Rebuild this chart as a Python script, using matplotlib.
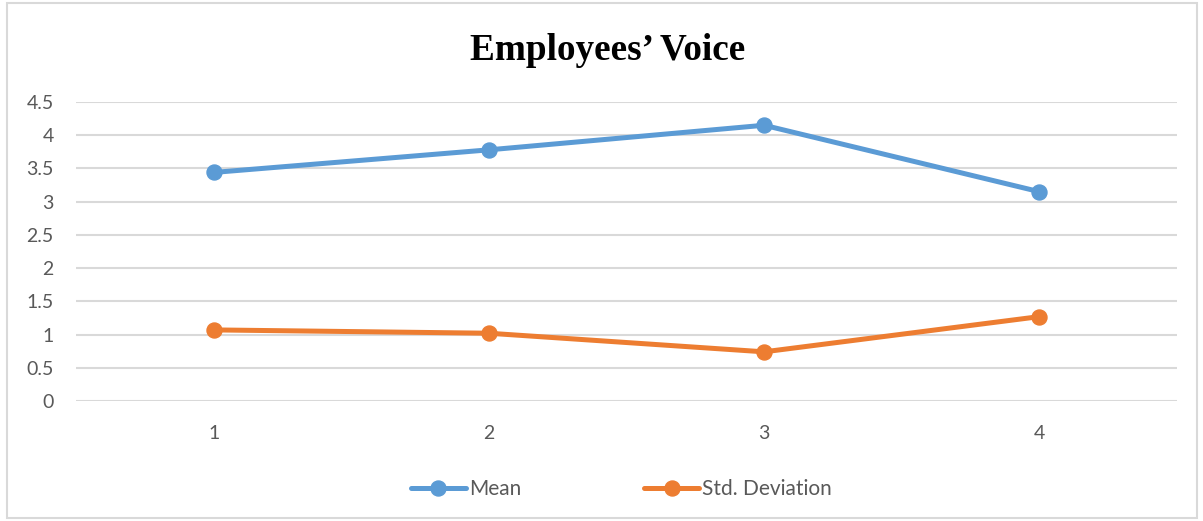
import matplotlib.pyplot as plt
from matplotlib.patches import Rectangle
from matplotlib.lines import Line2D

# survey items and their summary stats
items = [1, 2, 3, 4]
mean_vals = [3.44, 3.78, 4.15, 3.15]
std_vals = [1.07, 1.02, 0.74, 1.27]
y_ticks = [0, 0.5, 1, 1.5, 2, 2.5, 3, 3.5, 4, 4.5]
y_labels = ["0", "0.5", "1", "1.5", "2", "2.5", "3", "3.5", "4", "4.5"]

BLUE = "#5B9BD5"
ORANGE = "#ED7D31"
GRID = "#D9D9D9"
TEXT = "#595959"
FONT = "Lato"
LW = 3.6
MS = 10.8

fig = plt.figure(figsize=(12.03, 5.21), dpi=100)
fig.patch.set_facecolor("white")
fig.patches.append(Rectangle((7 / 1203, 3 / 521), 1190 / 1203, 515 / 521,
                             transform=fig.transFigure, fill=False,
                             edgecolor=GRID, linewidth=1.5))

ax = fig.add_axes([76 / 1203, 120 / 521, 1101 / 1203, 299 / 521])
ax.set_xlim(0.5, 4.5)
ax.set_ylim(0, 4.5)
for s in ax.spines.values():
    s.set_visible(False)
for y in y_ticks:
    ax.axhline(y, color=GRID, linewidth=1.5, zorder=1)

ax.plot(items, mean_vals, color=BLUE, linewidth=LW, marker="o",
        markersize=MS, solid_capstyle="round", zorder=3)
ax.plot(items, std_vals, color=ORANGE, linewidth=LW, marker="o",
        markersize=MS, solid_capstyle="round", zorder=3)

ax.set_xticks(items)
ax.set_xticklabels([str(i) for i in items])
ax.set_yticks(y_ticks)
ax.set_yticklabels(y_labels)
ax.tick_params(length=0, labelsize=14, labelcolor=TEXT)
ax.tick_params(axis="x", pad=17)
ax.tick_params(axis="y", pad=16)
for lbl in ax.get_xticklabels() + ax.get_yticklabels():
    lbl.set_fontfamily(FONT)

fig.text(0.505, 1 - 51 / 521, "Employees\u2019 Voice", ha="center", va="center",
         fontsize=26.8, fontweight="bold", family="Liberation Serif")

handles = [Line2D([], [], color=BLUE, linewidth=LW, marker="o", markersize=MS,
                  solid_capstyle="round"),
           Line2D([], [], color=ORANGE, linewidth=LW, marker="o", markersize=MS,
                  solid_capstyle="round")]
leg = fig.legend(handles, ["Mean", "Std. Deviation"], loc="center",
                 bbox_to_anchor=(0.5166, 1 - 489 / 521), ncol=2, frameon=False,
                 handlelength=2.64, handletextpad=0.15, columnspacing=5.9,
                 prop={"family": FONT, "size": 15})
for t in leg.get_texts():
    t.set_color(TEXT)

plt.savefig("out.png", dpi=100, facecolor="white")
